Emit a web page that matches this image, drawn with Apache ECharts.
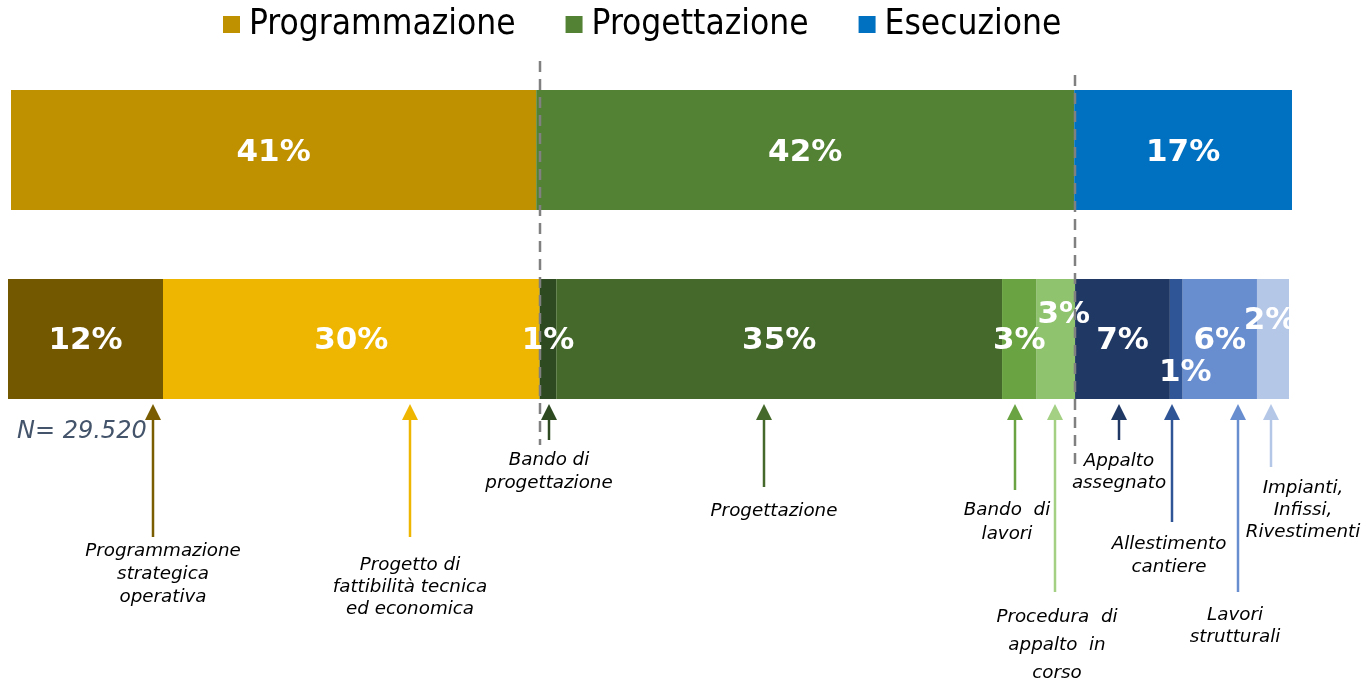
<!DOCTYPE html>
<html>
<head>
<meta charset="utf-8">
<script src="https://cdn.jsdelivr.net/npm/echarts@6/dist/echarts.min.js"></script>
<style>
html, body { margin: 0; padding: 0; background: #fff; }
#main { width: 1366px; height: 682px; }
</style>
</head>
<body>
<div id="main"></div>
<script>
// fasi (barra superiore)
var phaseNames = ['Programmazione', 'Progettazione', 'Esecuzione'];
var phaseValues = [41, 42, 17];
var phaseColors = ['#BF9000', '#548235', '#0070C0'];

// attività (barra inferiore)
var stepNames = ['Programmazione strategica operativa', 'Progetto di fattibilità tecnica ed economica',
    'Bando di progettazione', 'Progettazione', 'Bando di lavori', 'Procedura di appalto in corso',
    'Appalto assegnato', 'Allestimento cantiere', 'Lavori strutturali', 'Impianti, Infissi, Rivestimenti'];
var stepValues = [12.1, 29.4, 1.3, 34.8, 2.7, 3.0, 7.4, 1.0, 5.8, 2.5];
var stepLabels = ['12%', '30%', '1%', '35%', '3%', '3%', '7%', '1%', '6%', '2%'];
var stepColors = ['#735800', '#EEB600', '#2E4A20', '#44692A', '#6AA342', '#8FC36E',
    '#203864', '#2F5597', '#698ED0', '#B4C7E7'];
var arrowColors = ['#7A5D00', '#EEB600', '#2E4A20', '#44692A', '#6AA342', '#A3D083',
    '#203864', '#2F5597', '#698ED0', '#B4C7E7'];
var stepTexts = ['Programmazione\nstrategica\noperativa', 'Progetto di\nfattibilità tecnica\ned economica',
    'Bando di\nprogettazione', 'Progettazione', 'Bando  di\nlavori', 'Procedura  di\nappalto  in\ncorso',
    'Appalto\nassegnato', 'Allestimento\ncantiere', 'Lavori\nstrutturali', 'Impianti,\nInfissi,\nRivestimenti'];
// punto della barra indicato da ogni freccia (in %)
var arrowAt = [11.3, 31.4, 42.2, 59.0, 78.6, 81.7, 86.7, 90.9, 96.0, 98.6];
var sampleSize = 'N= 29.520';

var chartDom = document.getElementById('main');
var myChart = echarts.init(chartDom);
var font = 'DejaVu Sans';

var series = [];
phaseNames.forEach(function (name, i) {
    series.push({
        name: name,
        type: 'bar',
        stack: 'fasi',
        xAxisIndex: 0,
        yAxisIndex: 0,
        barWidth: 120,
        data: [phaseValues[i]],
        itemStyle: { color: phaseColors[i] },
        label: {
            show: true, position: 'inside', formatter: '{c}%', offset: [0, 3],
            color: '#fff', fontWeight: 'bold', fontSize: 31, fontFamily: font
        }
    });
});

var labelShift = { 5: [8, -24], 7: [9, 34], 9: [-3, -18] };
stepNames.forEach(function (name, i) {
    series.push({
        name: name,
        type: 'bar',
        stack: 'attivita',
        xAxisIndex: 1,
        yAxisIndex: 1,
        barWidth: 120,
        data: [stepValues[i]],
        itemStyle: { color: stepColors[i] },
        label: {
            show: true, position: 'inside', formatter: stepLabels[i],
            offset: labelShift[i] || [0, 2],
            color: '#fff', fontWeight: 'bold', fontSize: 31, fontFamily: font
        }
    });
});

var option = {
    animation: false,
    legend: {
        data: phaseNames,
        left: 218,
        top: 2,
        icon: 'rect',
        itemWidth: 17,
        itemHeight: 17,
        itemGap: 50,
        selectedMode: false,
        textStyle: { fontSize: 35, color: '#000', fontFamily: "'DejaVu Sans Condensed', 'DejaVu Sans'", padding: [0, 0, 0, 4] }
    },
    grid: [
        { left: 11, top: 90, width: 1281, height: 120 },
        { left: 8, top: 279, width: 1281, height: 120 }
    ],
    xAxis: [
        { type: 'value', gridIndex: 0, min: 0, max: 100, show: false },
        { type: 'value', gridIndex: 1, min: 0, max: 100, show: false }
    ],
    yAxis: [
        { type: 'category', gridIndex: 0, data: ['Fasi'], show: false },
        { type: 'category', gridIndex: 1, data: ['Attività'], show: false }
    ],
    series: series
};

myChart.setOption(option);

function px(v) {
    return myChart.convertToPixel({ xAxisIndex: 1 }, v);
}

// posizioni delle didascalie: [spostamento x, centro y, fine freccia y, interlinea]
var notes = [
    [10, 574, 537, 23], [0, 587, 537, 22], [0, 472, 440, 23], [10, 511, 487, 23], [-8, 522, 490, 24],
    [2, 645, 592, 28], [0, 472, 440, 22], [-3, 556, 522, 23], [-3, 626, 592, 22], [32, 510, 467, 22]
];

var graphics = [];
arrowAt.forEach(function (v, i) {
    var x = Math.round(px(v));
    var n = notes[i];
    graphics.push({
        type: 'line', z: 10,
        shape: { x1: x, y1: 418, x2: x, y2: n[2] },
        style: { stroke: arrowColors[i], lineWidth: 2.5 }
    });
    graphics.push({
        type: 'polygon', z: 10,
        shape: { points: [[x - 8, 420], [x + 8, 420], [x, 404]] },
        style: { fill: arrowColors[i] }
    });
    graphics.push({
        type: 'text', z: 10, x: x + n[0], y: n[1],
        style: {
            text: stepTexts[i], fill: '#000', fontSize: 18.3, fontStyle: 'italic', fontFamily: font,
            align: 'center', verticalAlign: 'middle', lineHeight: n[3]
        }
    });
});

// separatori tra le fasi
var cut1 = stepValues[0] + stepValues[1];
var cut2 = stepValues.slice(0, 6).reduce(function (a, b) { return a + b; }, 0);
[[cut1, 61, 445], [cut2, 75, 470]].forEach(function (d) {
    var x = Math.round(px(d[0]));
    graphics.push({
        type: 'line', z: 20,
        shape: { x1: x, y1: d[1], x2: x, y2: d[2] },
        style: { stroke: '#808080', lineWidth: 2.5, lineDash: [11, 7] }
    });
});

graphics.push({
    type: 'text', z: 10, x: 17, y: 432,
    style: {
        text: sampleSize, fill: '#44546A', fontSize: 24, fontStyle: 'italic', fontFamily: font,
        align: 'left', verticalAlign: 'middle'
    }
});

myChart.setOption({ graphic: graphics });
</script>
</body>
</html>
